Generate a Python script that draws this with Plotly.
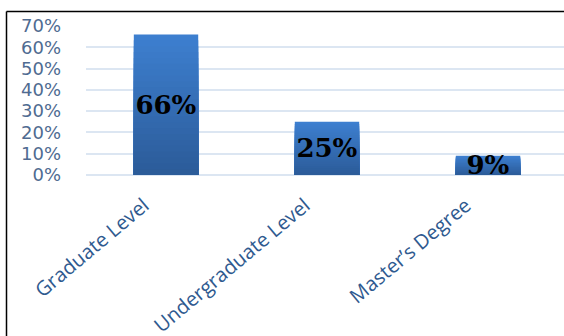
import plotly.graph_objects as go

categories = ["Graduate Level", "Undergraduate Level", "Master’s Degree"]
values = [0.66, 0.25, 0.09]
labels = ["66%", "25%", "9%"]
y_ticks = [0, 0.1, 0.2, 0.3, 0.4, 0.5, 0.6, 0.7]
y_ticktext = ["0%", "10%", "20%", "30%", "40%", "50%", "60%", "70%"]

W, H = 564, 336
L, R, T, B = 86, 0, 26, 161

top_rgb = (61, 127, 207)
bot_rgb = (43, 90, 151)
N = 24

fig = go.Figure()
for k in range(N, 0, -1):
    f = k / N
    c = tuple(int(round(bot_rgb[i] + (top_rgb[i] - bot_rgb[i]) * f)) for i in range(3))
    fig.add_trace(go.Bar(
        x=categories, y=[v * f for v in values], width=0.4,
        marker=dict(color="rgb(%d,%d,%d)" % c, line=dict(width=0)),
        hoverinfo="skip", showlegend=False,
    ))
fig.add_trace(go.Bar(
    x=categories, y=values, width=0.4,
    marker=dict(color="rgba(0,0,0,0)", line=dict(width=0)),
    text=labels, textposition="inside", insidetextanchor="middle",
    constraintext="none", textangle=0,
    textfont=dict(family="DejaVu Serif", size=26, color="black", weight="bold"),
    showlegend=False,
))

pw = W - L - R
ph = H - T - B
fig.add_shape(type="line", xref="paper", yref="paper",
              x0=(6.5 - L) / pw, x1=(W + 5 - L) / pw,
              y0=(H - B - 11.5) / ph, y1=(H - B - 11.5) / ph,
              line=dict(color="black", width=1.5))
fig.add_shape(type="line", xref="paper", yref="paper",
              x0=(6.5 - L) / pw, x1=(6.5 - L) / pw,
              y0=(H - B - 11.5) / ph, y1=-(B + 5) / ph,
              line=dict(color="black", width=1.5))

fig.update_layout(
    width=W, height=H, barmode="overlay",
    margin=dict(l=L, r=R, t=T, b=B, pad=0, autoexpand=False),
    paper_bgcolor="white", plot_bgcolor="white",
    xaxis=dict(range=[-0.497, 2.472], tickangle=-40, showgrid=False,
               showline=False, ticks="", automargin=False,
               ticklabelshift=-22, ticklabelstandoff=14,
               tickfont=dict(family="Open Sans", size=20, color="#2f5a8f")),
    yaxis=dict(range=[0, 0.7], tickvals=y_ticks, ticktext=y_ticktext,
               showgrid=True, gridcolor="#dce6f2", gridwidth=1.5,
               zeroline=True, zerolinecolor="#dce6f2", zerolinewidth=1.5,
               showline=False, ticks="", ticklabelstandoff=24, automargin=False,
               tickfont=dict(family="DejaVu Sans", size=18, color="#4f6b91")),
)
fig.write_html("out.html", config={"displayModeBar": False},
               post_script="document.body.style.margin='0';document.body.style.overflow='hidden';")
